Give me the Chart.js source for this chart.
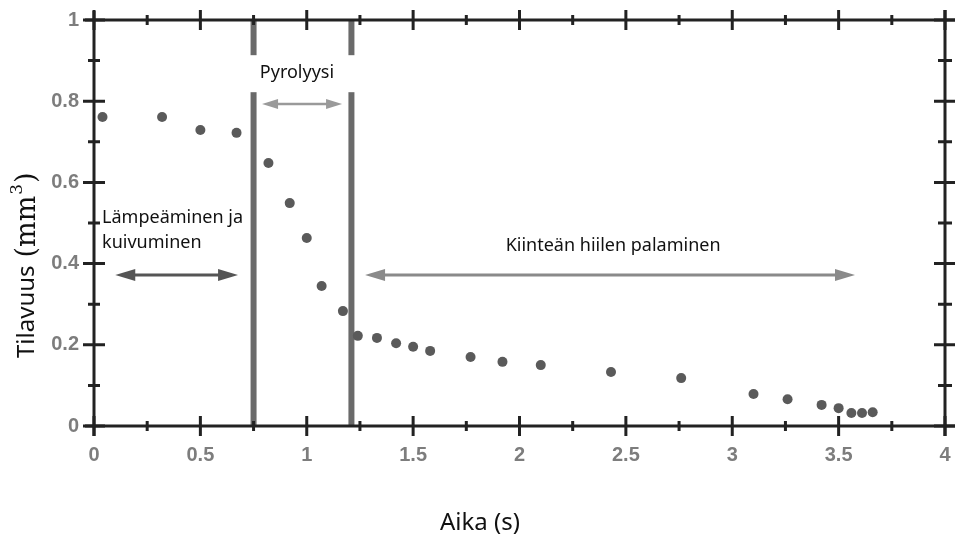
<!DOCTYPE html>
<html lang="fi">
  <head>
    <meta charset="UTF-8" />
    <title>Tilavuus ajan funktiona</title>
    <script src="https://cdn.jsdelivr.net/npm/chart.js@4.4.1/dist/chart.umd.min.js"></script>
    <style>
      html, body { margin: 0; padding: 0; background: #fff; }
      #chart { display: block; }
    </style>
  </head>
  <body>
    <canvas id="chart" width="955" height="537"></canvas>

    <script>
      // measured points: time (s) and volume (mm3)
      const timeS = [0.04, 0.32, 0.5, 0.67, 0.82, 0.92, 1.0, 1.07, 1.17, 1.24, 1.33, 1.42, 1.5, 1.58, 1.77,
        1.92, 2.1, 2.43, 2.76, 3.1, 3.26, 3.42, 3.5, 3.56, 3.61, 3.66];
      const volumeMm3 = [0.761, 0.761, 0.729, 0.722, 0.648, 0.549, 0.463, 0.345, 0.283, 0.222, 0.217, 0.204, 0.195, 0.185, 0.17,
        0.158, 0.15, 0.133, 0.118, 0.079, 0.066, 0.052, 0.044, 0.032, 0.032, 0.034];

      const xTickValues = [0, 0.5, 1, 1.5, 2, 2.5, 3, 3.5, 4];
      const xMinorValues = [0.25, 0.75, 1.25, 1.75, 2.25, 2.75, 3.25, 3.75];
      const yTickValues = [0, 0.2, 0.4, 0.6, 0.8, 1];
      const yMinorValues = [0.1, 0.3, 0.5, 0.7, 0.9];

      // phase boundaries (s)
      const phaseBounds = [0.75, 1.21];

      // annotation arrows: [from x, to x, at y]
      const dryingArrow = [0.1, 0.677, 0.372];
      const pyrolysisArrow = [0.79, 1.166, 0.793];
      const charArrow = [1.274, 3.577, 0.372];

      // annotation labels: [x, y]
      const dryingLabel = ['Lämpeäminen ja', 'kuivuminen'];
      const dryingLabelPos = [0.038, 0.512, 0.451];
      const pyrolysisLabel = 'Pyrolyysi';
      const pyrolysisLabelPos = [0.954, 0.869];
      const charLabel = 'Kiinteän hiilen palaminen';
      const charLabelPos = [2.44, 0.443];

      const textFont = '"Noto Sans", "Open Sans", sans-serif';

      function drawArrow(ctx, x1, x2, y, color, width, headLen, headHalf) {
        ctx.strokeStyle = color;
        ctx.fillStyle = color;
        ctx.lineWidth = width;
        ctx.beginPath();
        ctx.moveTo(x1 + headLen - 2, y);
        ctx.lineTo(x2 - headLen + 2, y);
        ctx.stroke();
        ctx.beginPath();
        ctx.moveTo(x1, y);
        ctx.lineTo(x1 + headLen, y - headHalf);
        ctx.lineTo(x1 + headLen, y + headHalf);
        ctx.closePath();
        ctx.fill();
        ctx.beginPath();
        ctx.moveTo(x2, y);
        ctx.lineTo(x2 - headLen, y - headHalf);
        ctx.lineTo(x2 - headLen, y + headHalf);
        ctx.closePath();
        ctx.fill();
      }

      const decorations = {
        id: 'decorations',
        beforeDatasetsDraw(chart) {
          const ctx = chart.ctx;
          const X = (v) => chart.scales.x.getPixelForValue(v);
          const Y = (v) => chart.scales.y.getPixelForValue(v);
          ctx.save();

          // phase boundary lines
          ctx.strokeStyle = '#6a6a6a';
          ctx.lineWidth = 6;
          phaseBounds.forEach((b) => {
            ctx.beginPath();
            ctx.moveTo(X(b), Y(1));
            ctx.lineTo(X(b), Y(0));
            ctx.stroke();
          });

          // frame
          ctx.strokeStyle = '#222';
          ctx.lineWidth = 3;
          ctx.beginPath();
          ctx.moveTo(X(0), Y(1) - 9);
          ctx.lineTo(X(0), Y(0) + 10);
          ctx.moveTo(X(0) - 9, Y(0));
          ctx.lineTo(X(4) + 10, Y(0));
          ctx.moveTo(X(0) - 9, Y(1));
          ctx.lineTo(X(4) + 10, Y(1));
          ctx.moveTo(X(4), Y(1) - 10);
          ctx.lineTo(X(4), Y(0) + 10);
          ctx.stroke();

          // ticks crossing the frame
          ctx.beginPath();
          xTickValues.forEach((v) => {
            ctx.moveTo(X(v), Y(0) - 10);
            ctx.lineTo(X(v), Y(0) + 10);
            ctx.moveTo(X(v), Y(1) - 10);
            ctx.lineTo(X(v), Y(1) + 10);
          });
          xMinorValues.forEach((v) => {
            ctx.moveTo(X(v), Y(0) - 5);
            ctx.lineTo(X(v), Y(0) + 5);
            ctx.moveTo(X(v), Y(1) - 5);
            ctx.lineTo(X(v), Y(1) + 5);
          });
          yTickValues.forEach((v) => {
            ctx.moveTo(X(0) - 11, Y(v));
            ctx.lineTo(X(0) + 11, Y(v));
            ctx.moveTo(X(4) - 11, Y(v));
            ctx.lineTo(X(4) + 11, Y(v));
          });
          yMinorValues.forEach((v) => {
            ctx.moveTo(X(0) - 6, Y(v));
            ctx.lineTo(X(0) + 6, Y(v));
            ctx.moveTo(X(4) - 7, Y(v));
            ctx.lineTo(X(4) + 7, Y(v));
          });
          ctx.stroke();

          // white box behind the pyrolysis label
          const px = X(pyrolysisLabelPos[0]);
          const py = Y(pyrolysisLabelPos[1]);
          ctx.fillStyle = '#fff';
          ctx.fillRect(px - 90, py - 18, 180, 37);

          // arrows
          drawArrow(ctx, X(dryingArrow[0]), X(dryingArrow[1]), Y(dryingArrow[2]), '#555', 3, 20, 6);
          drawArrow(ctx, X(pyrolysisArrow[0]), X(pyrolysisArrow[1]), Y(pyrolysisArrow[2]), '#9a9a9a', 2.5, 16, 5);
          drawArrow(ctx, X(charArrow[0]), X(charArrow[1]), Y(charArrow[2]), '#8a8a8a', 3, 20, 6);

          // labels
          ctx.fillStyle = '#111';
          ctx.font = '18px ' + textFont;
          ctx.textBaseline = 'middle';
          ctx.textAlign = 'left';
          ctx.fillText(dryingLabel[0], X(dryingLabelPos[0]), Y(dryingLabelPos[1]));
          ctx.fillText(dryingLabel[1], X(dryingLabelPos[0]), Y(dryingLabelPos[2]));
          ctx.textAlign = 'center';
          ctx.fillText(pyrolysisLabel, px, py);
          ctx.fillText(charLabel, X(charLabelPos[0]), Y(charLabelPos[1]));
          ctx.restore();
        },
        afterDraw(chart) {
          const ctx = chart.ctx;
          ctx.save();
          ctx.fillStyle = '#111';
          ctx.textBaseline = 'middle';

          // x title
          ctx.textAlign = 'center';
          ctx.font = '24px ' + textFont;
          ctx.fillText('Aika (s)', 480, 523);

          // y title: "Tilavuus" in sans, unit in serif with superscript
          ctx.translate(27, 358);
          ctx.rotate(-Math.PI / 2);
          ctx.textAlign = 'left';
          ctx.font = '24px ' + textFont;
          ctx.fillText('Tilavuus', 0, 0);
          let x = ctx.measureText('Tilavuus').width + 8;
          ctx.font = '27px "DejaVu Serif", serif';
          ctx.fillText('(mm', x, 1);
          x += ctx.measureText('(mm').width;
          ctx.font = '17px "DejaVu Serif", serif';
          ctx.fillText('3', x + 1, -9);
          x += ctx.measureText('3').width + 2;
          ctx.font = '27px "DejaVu Serif", serif';
          ctx.fillText(')', x, 1);
          ctx.restore();
        },
      };

      const tickFont = { family: '"Liberation Sans", Arial, sans-serif', size: 20, weight: 'bold' };

      new Chart(document.getElementById('chart'), {
        type: 'scatter',
        data: {
          datasets: [
            {
              data: timeS.map((t, i) => ({ x: t, y: volumeMm3[i] })),
              pointRadius: 5,
              pointBackgroundColor: '#5a5a5a',
              pointBorderWidth: 0,
            },
          ],
        },
        options: {
          responsive: false,
          animation: false,
          events: [],
          layout: { padding: { top: 20, right: 10, left: 0, bottom: 0 } },
          plugins: { legend: { display: false }, tooltip: { enabled: false } },
          scales: {
            x: {
              type: 'linear',
              min: 0,
              max: 4,
              afterBuildTicks: (s) => { s.ticks = xTickValues.map((v) => ({ value: v })); },
              afterFit: (s) => {
                s.height = 111;
                s.paddingLeft = 0;
                s.paddingRight = 0;
              },
              grid: { display: false, drawTicks: false },
              border: { display: false },
              ticks: {
                padding: 17,
                maxRotation: 0,
                autoSkip: false,
                color: '#7d7d7d',
                font: tickFont,
                callback: (v) => String(v),
              },
            },
            y: {
              type: 'linear',
              min: 0,
              max: 1,
              afterBuildTicks: (s) => { s.ticks = yTickValues.map((v) => ({ value: v })); },
              afterFit: (s) => {
                s.width = 94;
                s.paddingTop = 0;
                s.paddingBottom = 0;
              },
              grid: { display: false, drawTicks: false },
              border: { display: false },
              ticks: {
                padding: 15,
                autoSkip: false,
                color: '#7d7d7d',
                font: tickFont,
                callback: (v) => String(v),
              },
            },
          },
        },
        plugins: [decorations],
      });
    </script>
  </body>
</html>
